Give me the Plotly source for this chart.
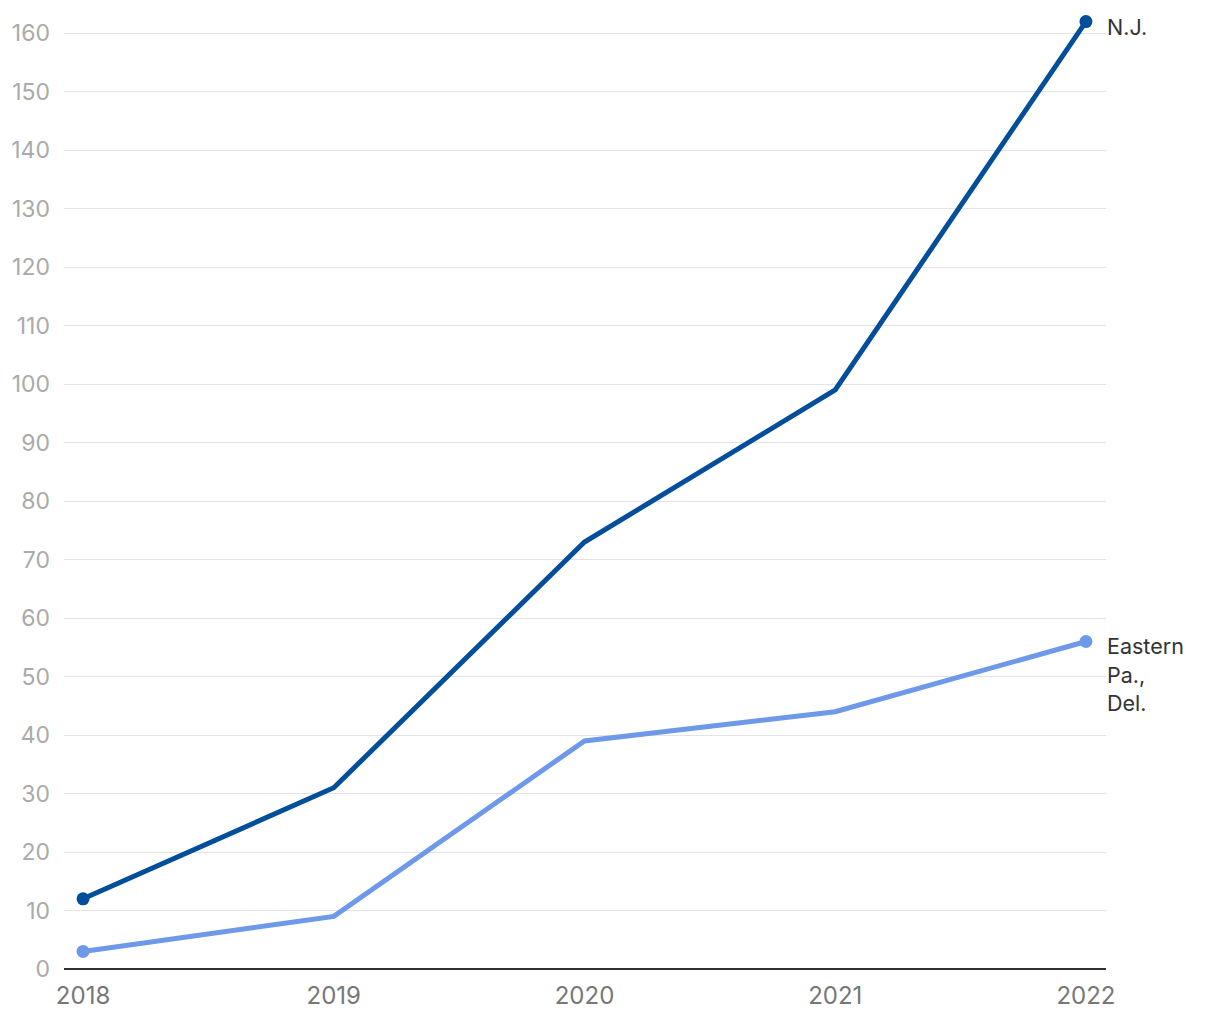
import plotly.graph_objects as go

years = [2018, 2019, 2020, 2021, 2022]
nj = [12, 31, 73, 99, 162]
epa = [3, 9, 39, 44, 56]
nj_label = ["N.J."]
epa_label = ["Eastern", "Pa.,", "Del."]
y_ticks = list(range(0, 161, 10))

NJ_COLOR = "#024e9a"
EPA_COLOR = "#6e98e8"
FONT = "Inter"

fig = go.Figure()
for vals, color in [(epa, EPA_COLOR), (nj, NJ_COLOR)]:
    fig.add_trace(go.Scatter(
        x=years, y=vals, mode="lines", line=dict(color=color, width=5),
        hoverinfo="skip", cliponaxis=False))
    fig.add_trace(go.Scatter(
        x=[years[0], years[-1]], y=[vals[0], vals[-1]], mode="markers",
        marker=dict(color=color, size=13), hoverinfo="skip", cliponaxis=False))

annotations = []
for i, t in enumerate(nj_label):
    annotations.append(dict(x=years[-1], y=nj[-1], text=t, showarrow=False,
                            xanchor="left", yanchor="middle", xshift=19, yshift=-5 - 28.5 * i,
                            font=dict(family=FONT, size=21.5, color="#333333")))
for i, t in enumerate(epa_label):
    annotations.append(dict(x=years[-1], y=epa[-1], text=t, showarrow=False,
                            xanchor="left", yanchor="middle", xshift=19, yshift=-5 - 28.5 * i,
                            font=dict(family=FONT, size=21.5, color="#333333")))

fig.update_layout(
    width=1220, height=1020,
    margin=dict(l=64, r=114, t=4, b=51),
    plot_bgcolor="white", paper_bgcolor="white",
    showlegend=False,
    annotations=annotations,
    xaxis=dict(range=[2017.924, 2022.08], tickvals=years, ticktext=[str(y) for y in years],
               showgrid=False, zeroline=False, showline=False, ticks="",
               tickfont=dict(family=FONT, size=24, color="#777777"), ticklabelstandoff=10,
               fixedrange=True),
    yaxis=dict(range=[0, 165], tickvals=y_ticks, showgrid=True, gridcolor="#e3e3e3",
               gridwidth=1.2, zeroline=True, zerolinecolor="#333333", zerolinewidth=2,
               showline=False, ticks="",
               tickfont=dict(family=FONT, size=23, color="#aaaaaa"), ticklabelstandoff=13,
               fixedrange=True),
)

fig.write_html("out.html")
